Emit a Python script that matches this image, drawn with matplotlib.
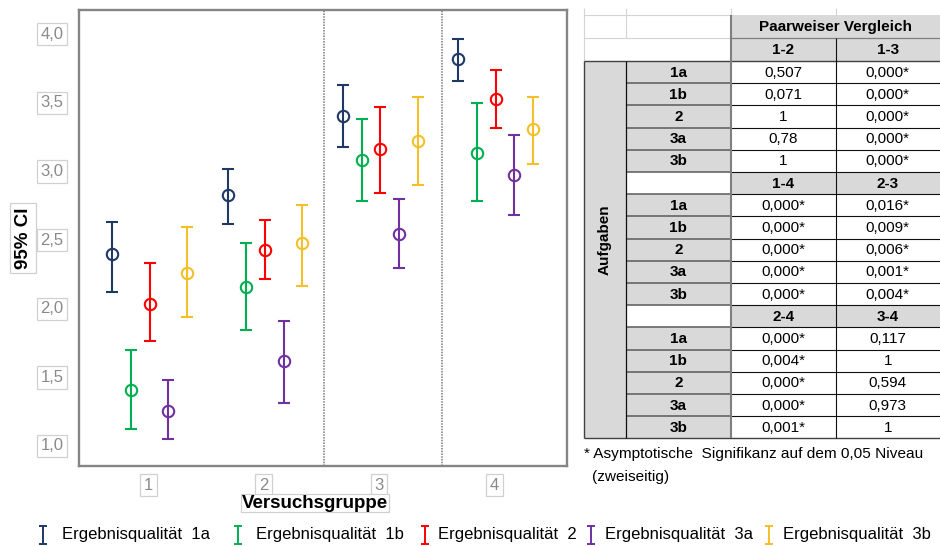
import matplotlib
matplotlib.use("Agg")
import matplotlib.pyplot as plt
from matplotlib.patches import Rectangle
from matplotlib.lines import Line2D

plt.rcParams['font.family'] = ['Liberation Sans', 'DejaVu Sans']

# ---------------- data ----------------
groups = [1, 2, 3, 4]
group_labels = ['1', '2', '3', '4']
series_names = ['Ergebnisqualität  1a', 'Ergebnisqualität  1b', 'Ergebnisqualität  2',
                'Ergebnisqualität  3a', 'Ergebnisqualität  3b']
series_colors = ['#1F3864', '#00B050', '#FF0000', '#7030A0', '#F5BF2A']

mean_1a = [2.385, 2.816, 3.396, 3.810]
low_1a = [2.109, 2.609, 3.169, 3.649]
up_1a = [2.618, 3.008, 3.620, 3.956]

mean_1b = [1.398, 2.146, 3.072, 3.125]
low_1b = [1.115, 1.836, 2.772, 2.772]
up_1b = [1.688, 2.467, 3.374, 3.486]

mean_2 = [2.024, 2.414, 3.152, 3.515]
low_2 = [1.756, 2.207, 2.835, 3.306]
up_2 = [2.321, 2.633, 3.459, 3.730]

mean_3a = [1.244, 1.610, 2.531, 2.964]
low_3a = [1.042, 1.303, 2.285, 2.670]
up_3a = [1.471, 1.900, 2.787, 3.254]

mean_3b = [2.253, 2.470, 3.213, 3.296]
low_3b = [1.931, 2.153, 2.891, 3.045]
up_3b = [2.582, 2.745, 3.535, 3.532]

y_ticks = [1.0, 1.5, 2.0, 2.5, 3.0, 3.5, 4.0]
y_tick_labels = ['1,0', '1,5', '2,0', '2,5', '3,0', '3,5', '4,0']

# table data
table_title = 'Paarweiser Vergleich'
row_header = 'Aufgaben'
task_labels = ['1a', '1b', '2', '3a', '3b']
pair_labels = [('1-2', '1-3'), ('1-4', '2-3'), ('2-4', '3-4')]
p_first = [['0,507', '0,071', '1', '0,78', '1'],
           ['0,000*', '0,000*', '0,000*', '0,000*', '0,000*'],
           ['0,000*', '0,004*', '0,000*', '0,000*', '0,001*']]
p_second = [['0,000*', '0,000*', '0,000*', '0,000*', '0,000*'],
            ['0,016*', '0,009*', '0,006*', '0,001*', '0,004*'],
            ['0,117', '1', '0,594', '0,973', '1']]
footnote_1 = '* Asymptotische  Signifikanz auf dem 0,05 Niveau'
footnote_2 = '(zweiseitig)'

# ---------------- figure ----------------
W, H = 940, 546
fig = plt.figure(figsize=(W / 100, H / 100), dpi=100)
L, R, T, B = 79, 567, 10, 466
ax = fig.add_axes([L / W, 1 - B / H, (R - L) / W, (B - T) / H])

means = [mean_1a, mean_1b, mean_2, mean_3a, mean_3b]
lows = [low_1a, low_1b, low_2, low_3a, low_3b]
ups = [up_1a, up_1b, up_2, up_3a, up_3b]
offset_step = 0.162
for i, (m, lo, up, c) in enumerate(zip(means, lows, ups, series_colors)):
    xs = [g + (i - 2) * offset_step + 0.01 for g in groups]
    yerr = [[mm - l for mm, l in zip(m, lo)], [u - mm for mm, u in zip(m, up)]]
    ax.errorbar(xs, m, yerr=yerr, fmt='o', color=c, mfc='none', mec=c,
                ms=8.2, mew=1.5, elinewidth=1.5, capsize=4, capthick=1.5, zorder=3)

for xv in [2.526, 3.55]:
    ax.axvline(xv, color='#7A7A7A', lw=1.1, ls=(0, (1, 0.8)), zorder=1)

ax.set_xlim(0.397, 4.63)
ax.set_ylim(0.843, 4.166)
for s in ax.spines.values():
    s.set_color('#858585')
    s.set_linewidth(1.7)

box = dict(facecolor='white', edgecolor='#D0D0D0', linewidth=0.9, boxstyle='square,pad=0.22')
ax.set_yticks(y_ticks)
ax.set_yticklabels(y_tick_labels)
ax.set_xticks(groups)
ax.set_xticklabels(group_labels)
ax.tick_params(axis='y', length=0, pad=11, labelsize=12, labelcolor='#8A8A8A')
ax.tick_params(axis='x', length=0, pad=8.5, labelsize=12, labelcolor='#8A8A8A')
for lab in ax.get_yticklabels() + ax.get_xticklabels():
    lab.set_bbox(box)

fig.text(23 / W, 1 - 238 / H, '95% CI', rotation=90, ha='center', va='center',
         fontsize=13.5, fontweight='bold',
         bbox=dict(facecolor='white', edgecolor='#D0D0D0', linewidth=0.9, boxstyle='square,pad=0.25'))
fig.text(315 / W, 1 - 503 / H, 'Versuchsgruppe', ha='center', va='center',
         fontsize=13.5, fontweight='bold',
         bbox=dict(facecolor='white', edgecolor='#D0D0D0', linewidth=0.9, boxstyle='square,pad=0.03'))

# ---------------- overlay for table & legend ----------------
ov = fig.add_axes([0, 0, 1, 1])
ov.set_xlim(0, W)
ov.set_ylim(H, 0)
ov.axis('off')

GREY = '#D9D9D9'
C = [584, 625.7, 731, 835.7, 940]
y0, y1, y2 = 15, 38, 61
rh = (438.3 - 61) / 17
row_tops = [y2 + k * rh for k in range(18)]
ybot = row_tops[-1]

def rect(x0, yA, x1, yB, fc):
    ov.add_patch(Rectangle((x0, yA), x1 - x0, yB - yA, facecolor=fc, edgecolor='none', zorder=1))

def line(xa, ya, xb, yb, c='#202020', lw=0.8):
    ov.add_line(Line2D([xa, xb], [ya, yb], color=c, lw=lw, zorder=3, solid_capstyle='butt'))

# fills
rect(C[2], y0, C[4], y2, GREY)
rect(C[0], y2, C[1], ybot, GREY)
k = 0
for b in range(3):
    if b > 0:
        rect(C[2], row_tops[k], C[4], row_tops[k + 1], GREY)
        k += 1
    for t in range(5):
        rect(C[1], row_tops[k], C[2], row_tops[k + 1], GREY)
        k += 1

# faint lines above the table
fc = '#D4D4D4'
line(C[0], 8, C[0], y2, fc, 0.8)
line(C[1], 8, C[1], y1, fc, 0.8)
line(C[2], 8, C[2], y0, fc, 0.8)
line(C[3], 8, C[3], y0, fc, 0.8)
line(C[0], y0, C[2], y0, fc, 0.8)
line(C[0], y1, C[2], y1, fc, 0.8)

# dark lines
line(C[2], y1, C[4], y1, '#7F7F7F', 0.9)
line(C[0], y2, C[4], y2, '#404040', 1.0)
for j in range(1, 17):
    yy = row_tops[j]
    line(C[1], yy, C[2], yy, '#5A5A5A', 1.1)
    line(C[2], yy, C[4], yy, '#101010', 0.8)
line(C[0], ybot, C[4], ybot, '#404040', 1.0)
line(C[0], y2, C[0], ybot, '#404040', 1.0)
line(C[1], y2, C[1], ybot, '#101010', 0.9)
line(C[2], y0, C[2], ybot, '#7F7F7F', 1.5)
line(C[3], y1, C[3], ybot, '#101010', 0.8)

tfs = 11
ov.text((C[2] + C[4]) / 2, (y0 + y1) / 2 + 0.5, table_title, ha='center', va='center',
        fontsize=tfs, fontweight='bold', zorder=4)
ov.text((C[0] + C[1]) / 2, 240, row_header, rotation=90, ha='center', va='center',
        fontsize=tfs, fontweight='bold', zorder=4)

k = 0
for b in range(3):
    if b == 0:
        hy = (y1 + y2) / 2
    else:
        hy = (row_tops[k] + row_tops[k + 1]) / 2
        k += 1
    ov.text((C[2] + C[3]) / 2, hy + 0.5, pair_labels[b][0], ha='center', va='center',
            fontsize=tfs, fontweight='bold', zorder=4)
    ov.text((C[3] + C[4]) / 2, hy + 0.5, pair_labels[b][1], ha='center', va='center',
            fontsize=tfs, fontweight='bold', zorder=4)
    for t in range(5):
        cy = (row_tops[k] + row_tops[k + 1]) / 2 + 0.5
        ov.text((C[1] + C[2]) / 2, cy, task_labels[t], ha='center', va='center',
                fontsize=tfs, fontweight='bold', zorder=4)
        ov.text((C[2] + C[3]) / 2, cy, p_first[b][t], ha='center', va='center',
                fontsize=tfs, zorder=4)
        ov.text((C[3] + C[4]) / 2, cy, p_second[b][t], ha='center', va='center',
                fontsize=tfs, zorder=4)
        k += 1

ov.text(584, 454, footnote_1, ha='left', va='center', fontsize=11.1, zorder=4)
ov.text(592, 477, footnote_2, ha='left', va='center', fontsize=11.1, zorder=4)

# legend (manual)
sym_x = [43, 238, 425, 591, 769]
txt_x = [62, 256, 438, 605, 783]
ly = 535
for sx, tx, name, c in zip(sym_x, txt_x, series_names, series_colors):
    line(sx, ly - 9, sx, ly + 9, c, 1.4)
    line(sx - 4, ly - 9, sx + 4, ly - 9, c, 1.4)
    line(sx - 4, ly + 9, sx + 4, ly + 9, c, 1.4)
    ov.text(tx, ly, name, ha='left', va='center', fontsize=12, zorder=4)

fig.savefig('out.png', dpi=100)
